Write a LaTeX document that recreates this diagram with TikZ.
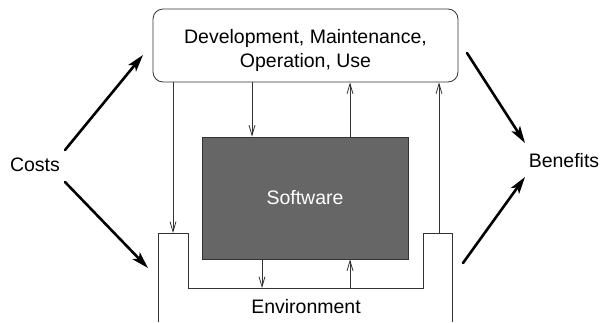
\documentclass[tikz,border=0pt]{standalone}
\usepackage{fontspec}
\setmainfont{Liberation Sans}
\usetikzlibrary{arrows.meta,calc}
\definecolor{swgray}{HTML}{666666}
\definecolor{linegray}{HTML}{333333}
\begin{document}
\begin{tikzpicture}[x=1pt,y=-1pt,
  every node/.style={font=\fontsize{19.5}{24}\selectfont},
  thinline/.style={draw=linegray, line width=0.8pt},
  flow/.style={thinline, -{Straight Barb[length=10pt,width=6pt]}},
  bigarrow/.style={line width=2.6pt, line cap=round,
    -{Stealth[length=17pt,width=10pt,inset=4pt]}},
  label/.style={inner sep=0pt}]
\useasboundingbox (0,0) rectangle (602,322);

% activity box and the software itself
\node[thinline, rounded corners=10pt, minimum width=305pt, minimum height=73pt]
  (dev) at (305.5,45.5) {};
\node[label, align=center] (devtext) at ($(dev.center)+(0,5)$)
  {Development, Maintenance,\\Operation, Use};
\node[draw=linegray, line width=0.8pt, fill=swgray, text=white,
      minimum width=206pt, minimum height=122pt] (sw) at (305,198) {Software};

% environment: an open U around the software
\draw[thinline] (158,322) -- (158,233) -- (188,233) -- (188,288)
  -- (423,288) -- (423,233) -- (452,233) -- (452,322);
\node[label] (env) at (306,307) {Environment};

\coordinate (envL) at (173,233);
\coordinate (envR) at (439,233);
\coordinate (envB1) at (262,288);
\coordinate (envB2) at (350,288);
\coordinate (swT1) at (252,137);
\coordinate (swT2) at (350,137);

% information flows
\draw[flow] (dev.south -| envL) -- (envL);
\draw[flow] (dev.south -| swT1) -- (sw.north -| swT1);
\draw[flow] (sw.north -| swT2) -- (dev.south -| swT2);
\draw[flow] (envR) -- (dev.south -| envR);
\draw[flow] (sw.south -| envB1) -- (envB1);
\draw[flow] (envB2) -- (sw.south -| envB2);

% costs and benefits
\node[label] (costs) at (35,165) {Costs};
\node[label] (benefits) at (564,161) {Benefits};

\coordinate (c1) at (65,150);
\coordinate (c2) at (65,182);
\coordinate (cTop) at (143,55);
\coordinate (cEnv) at (148,268);
\coordinate (bTop) at (467,53);
\coordinate (bEnv) at (463,263);
\coordinate (b1) at (525,143);
\coordinate (b2) at (525,177);

\draw[bigarrow] (c1) -- (cTop);
\draw[bigarrow] (c2) -- (cEnv);
\draw[bigarrow] (bTop) -- (b1);
\draw[bigarrow] (bEnv) -- (b2);
\end{tikzpicture}
\end{document}
